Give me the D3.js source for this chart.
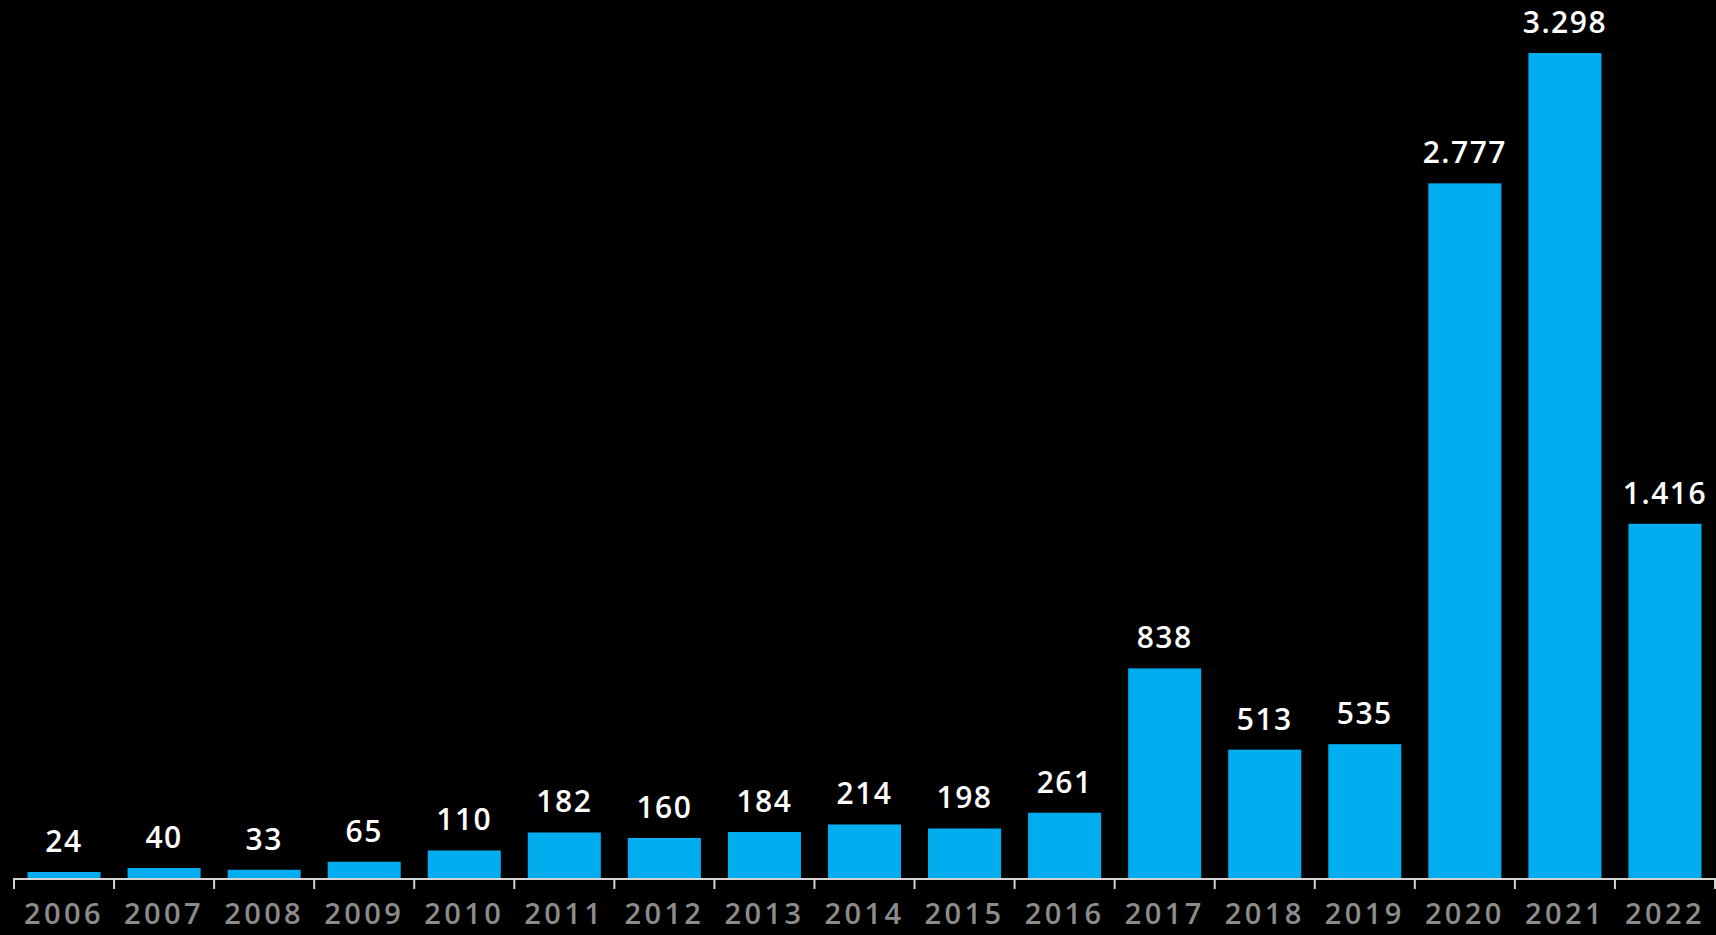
<!DOCTYPE html>
<html>
<head>
<meta charset="utf-8">
<script src="https://cdn.jsdelivr.net/npm/d3@7"></script>
<style>
  html, body { margin: 0; padding: 0; background: #000; overflow: hidden; }
  svg { display: block; }
</style>
</head>
<body>
<svg id="chart" width="1716" height="935"></svg>
<script>
const years = ["2006","2007","2008","2009","2010","2011","2012","2013","2014","2015","2016","2017","2018","2019","2020","2021","2022"];
const values = [24, 40, 33, 65, 110, 182, 160, 184, 214, 198, 261, 838, 513, 535, 2777, 3298, 1416];

const W = 1716, H = 935;
const baseY = 878;
const svg = d3.select("#chart");

const x = d3.scaleBand().domain(years).range([14, 1715]).paddingInner(0.27).paddingOuter(0.135);
const y = d3.scaleLinear().domain([0, 3510]).range([baseY, 0]);

const loc = d3.formatLocale({decimal: ",", thousands: ".", grouping: [3], currency: ["", ""]});
const fmt = loc.format(",d");

// bars
svg.append("g").selectAll("rect").data(values).join("rect")
  .attr("x", (d, i) => x(years[i]))
  .attr("y", d => y(d))
  .attr("width", x.bandwidth())
  .attr("height", d => baseY - y(d))
  .attr("fill", "#00AEEF");

// value labels
svg.append("g").selectAll("text").data(values).join("text")
  .attr("x", (d, i) => x(years[i]) + x.bandwidth() / 2)
  .attr("y", d => y(d) - 20)
  .attr("text-anchor", "middle")
  .attr("fill", "#ffffff")
  .style("font-family", "'Open Sans', sans-serif")
  .style("font-weight", 600)
  .style("font-size", "30px")
  .style("letter-spacing", "1.5px")
  .text(d => fmt(d));

// axis
const axis = d3.axisBottom(x).tickSize(0).tickPadding(25);
const gAxis = svg.append("g").attr("transform", `translate(0,${baseY})`).call(axis);
gAxis.select(".domain").remove();
gAxis.selectAll("text")
  .attr("fill", "#8c8c8c")
  .style("font-family", "'Open Sans', sans-serif")
  .style("font-weight", 600)
  .style("font-size", "29px")
  .style("letter-spacing", "3.4px");

// axis baseline and boundary ticks
const step = x.step();
const x0 = x.range()[0];
const bounds = d3.range(years.length + 1).map(i => x0 + i * step);
svg.append("line")
  .attr("x1", x0).attr("x2", W)
  .attr("y1", baseY + 1).attr("y2", baseY + 1)
  .attr("stroke", "#d4d4d4").attr("stroke-width", 2);
svg.append("g").selectAll("line").data(bounds).join("line")
  .attr("x1", d => d).attr("x2", d => d)
  .attr("y1", baseY).attr("y2", baseY + 11)
  .attr("stroke", "#d4d4d4").attr("stroke-width", 2);
</script>
</body>
</html>
